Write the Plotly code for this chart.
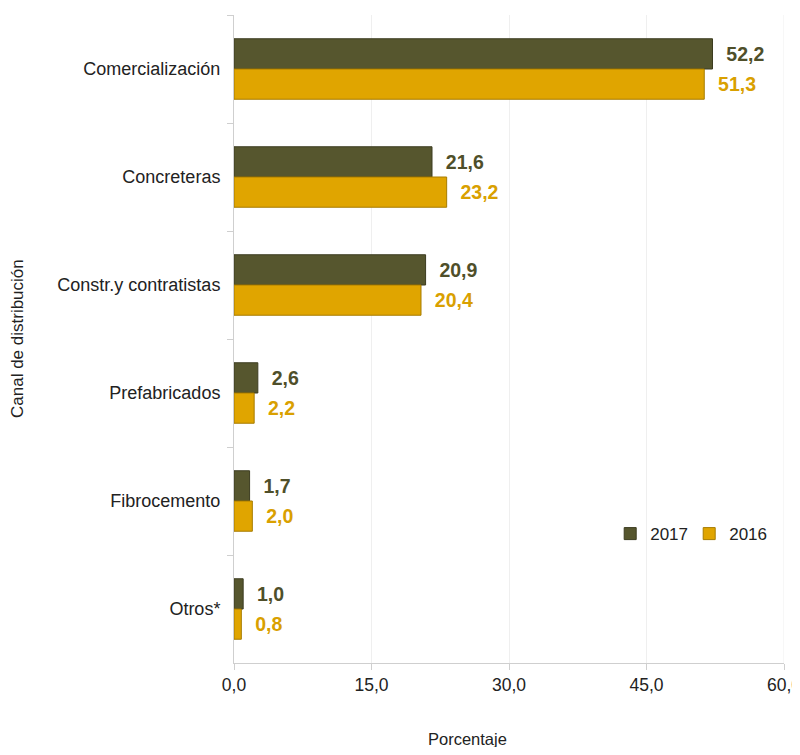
import plotly.graph_objects as go

categories = ["Comercialización", "Concreteras", "Constr.y contratistas",
              "Prefabricados", "Fibrocemento", "Otros*"]
values_2017 = [52.2, 21.6, 20.9, 2.6, 1.7, 1.0]
values_2016 = [51.3, 23.2, 20.4, 2.2, 2.0, 0.8]
x_ticks = [0, 15, 30, 45, 60]

c2017 = "#56562e"
c2016 = "#e0a500"
font = "Liberation Sans, Arial, sans-serif"
txt = "#222222"

fig = go.Figure()
fig.add_trace(go.Bar(
    y=categories, x=values_2017, orientation="h", name="2017",
    marker=dict(color=c2017, line=dict(color="#3c3c20", width=1)),
    texttemplate="\u00a0\u00a0%{x:.1f}", textposition="outside", constraintext="none",
    textfont=dict(color="#4f4f2a", size=19.5, family=font, weight="bold"),
    cliponaxis=False,
))
fig.add_trace(go.Bar(
    y=categories, x=values_2016, orientation="h", name="2016",
    marker=dict(color=c2016, line=dict(color="#a77c00", width=1)),
    texttemplate="\u00a0\u00a0%{x:.1f}", textposition="outside", constraintext="none",
    textfont=dict(color="#d9a000", size=19.5, family=font, weight="bold"),
    cliponaxis=False,
))

W, H = 792, 739
L, T = 226, 7
PW, PH = 550, 648

fig.update_layout(
    width=W, height=H,
    margin=dict(l=L, r=W - L - PW, t=T, b=H - T - PH),
    paper_bgcolor="white", plot_bgcolor="white",
    barmode="group", bargap=0.44, bargroupgap=0,
    separators=",.",
    font=dict(family=font, size=17, color=txt),
    showlegend=True,
    legend=dict(orientation="h", x=0.684, y=0.199, xanchor="left", yanchor="middle",
                font=dict(size=17, color=txt), itemwidth=30,
                entrywidth=34, entrywidthmode="pixels",
                traceorder="normal", bgcolor="rgba(0,0,0,0)"),
    xaxis=dict(range=[0, 60], tickvals=x_ticks, tickformat=".1f", automargin=False,
               ticklabeloverflow="allow",
               showgrid=True, gridcolor="#efefef", gridwidth=1,
               showline=True, linecolor="#cfcfcf", linewidth=1,
               ticks="outside", tickcolor="#cfcfcf", ticklen=6,
               tickfont=dict(size=17.5, color=txt), zeroline=False),
    yaxis=dict(autorange="reversed", showline=True, linecolor="#cfcfcf", linewidth=1,
               automargin=False, ticklabelstandoff=9,
               ticks="outside", tickson="boundaries", tickcolor="#cfcfcf", ticklen=6,
               tickfont=dict(size=18, color=txt), showgrid=False),
    shapes=[dict(type="line", xref="x", yref="paper", x0=x_ticks[-1], x1=x_ticks[-1],
                 y0=0, y1=1, line=dict(color="#efefef", width=1), layer="below")],
    annotations=[
        dict(text="Porcentaje", xref="paper", yref="paper", x=0.424,
             y=-(H - T - PH + 3) / PH,
             xanchor="center", yanchor="bottom", showarrow=False,
             font=dict(size=16.5, color=txt)),
        dict(text="Canal de distribución", xref="paper", yref="paper",
             x=(9 - L) / PW, y=0.5, textangle=-90,
             xanchor="center", yanchor="middle", showarrow=False,
             font=dict(size=17, color=txt)),
    ],
)

fig.write_html("out.html")
